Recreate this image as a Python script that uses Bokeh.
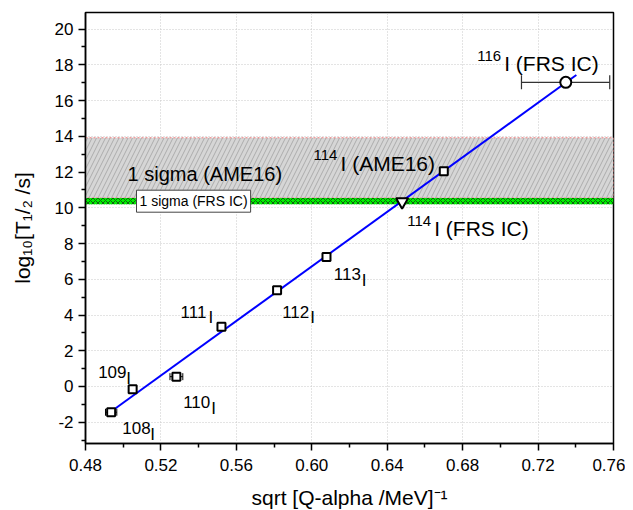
from bokeh.plotting import figure
from bokeh.models import (FixedTicker, PrintfTickFormatter, Whisker, ColumnDataSource,
                          Label, Range1d)
from bokeh.core.properties import value
from bokeh.embed import file_html
from bokeh.resources import INLINE

# ---- data ----
iso_x = [0.4936, 0.5050, 0.5282, 0.5521, 0.5816, 0.6078]
iso_y = [-1.44, -0.15, 0.55, 3.35, 5.38, 7.25]
iso_xerr = [0.0030, 0.0008, 0.0034, 0.0008, 0.0008, 0.0008]

ame_x = [0.6700]
ame_y = [12.04]
ame_lo = [0.6476]
ame_hi = [0.6927]

frs114_x = [0.6479]
frs114_y = [10.34]

frs116_x = [0.7347]
frs116_y = [17.02]
frs116_lo = [0.7112]
frs116_hi = [0.7580]

fit_x = [0.4936, 0.7403]
fit_y = [-1.40, 17.43]

ame_band = [10.55, 13.92]
frs_band = [10.20, 10.55]
band_x = [0.48, 0.76]

mass_text = ["108", "109", "110", "111", "112", "113"]
mass_lx = [0.4995, 0.4867, 0.5318, 0.5304, 0.5843, 0.6117]
mass_ly = [-2.34, 0.80, -0.88, 4.17, 4.17, 6.28]

big_sup = ["116", "114", "114"]
big_main = ["I (FRS IC)", "I (AME16)", "I (FRS IC)"]
big_lx = [0.6877, 0.6009, 0.6506]
big_ly = [18.07, 12.49, 8.82]

x_ticks = [0.48, 0.52, 0.56, 0.60, 0.64, 0.68, 0.72, 0.76]
x_minor = [0.50, 0.54, 0.58, 0.62, 0.66, 0.70, 0.74]
y_ticks = [-2, 0, 2, 4, 6, 8, 10, 12, 14, 16, 18, 20]
y_minor = [-3, -1, 1, 3, 5, 7, 9, 11, 13, 15, 17, 19]

FONT = "Liberation Sans"

p = figure(frame_width=528, frame_height=431, output_backend="svg",
           toolbar_location=None, x_range=Range1d(0.48, 0.76),
           y_range=Range1d(-3.19, 20.93),
           min_border_left=85, min_border_right=12, min_border_top=12,
           min_border_bottom=59)
p.background_fill_color = "white"
p.border_fill_color = "white"
p.outline_line_color = "black"
p.outline_line_width = 1.5

# bands
p.quad(left=[band_x[0]], right=[band_x[1]], bottom=[ame_band[0]], top=[ame_band[1]],
       fill_color="#d6d6d6", line_color="#f08080", line_dash="2 2", line_width=1,
       hatch_pattern="/", hatch_color="#8a8a8a", hatch_scale=9, hatch_weight=0.7,
       hatch_alpha=0.8)
p.quad(left=[band_x[0]], right=[band_x[1]], bottom=[frs_band[0]], top=[frs_band[1]],
       fill_color="#00ee00", line_color=None,
       hatch_pattern="x", hatch_color="#104010", hatch_scale=5, hatch_weight=0.8)

# grid
for ax_grid in (p.xgrid, p.ygrid):
    ax_grid.grid_line_color = "#c8c8c8"
    ax_grid.grid_line_dash = "1 2"
    ax_grid.grid_line_width = 1
p.xgrid.ticker = FixedTicker(ticks=x_ticks)
p.ygrid.ticker = FixedTicker(ticks=y_ticks)

# axes
p.xaxis.ticker = FixedTicker(ticks=x_ticks, minor_ticks=x_minor)
p.yaxis.ticker = FixedTicker(ticks=y_ticks, minor_ticks=y_minor)
p.xaxis.formatter = PrintfTickFormatter(format="%.2f")
p.yaxis.major_label_overrides = {t: str(t) for t in y_ticks}
for ax in (p.xaxis, p.yaxis):
    ax.axis_line_width = 1.5
    ax.axis_line_color = "black"
    ax.major_tick_line_width = 1.5
    ax.minor_tick_line_width = 1.5
    ax.major_tick_in = 0
    ax.minor_tick_in = 0
    ax.major_tick_out = 7
    ax.minor_tick_out = 4
    ax.major_label_text_font = FONT
    ax.major_label_text_font_size = "17px"
    ax.major_label_text_color = "black"
    ax.axis_label_text_font = FONT
    ax.axis_label_text_font_size = "21px"
    ax.axis_label_text_font_style = "normal"
    ax.axis_label_text_color = "black"
p.xaxis.major_label_standoff = 8
p.yaxis.major_label_standoff = 5
p.xaxis.axis_label = "sqrt [Q-alpha /MeV]⁻¹"
p.xaxis.axis_label_standoff = 12
p.yaxis.axis_label = "log₁₀[T₁/₂ /s]"
p.yaxis.axis_label_standoff = 18

# fit line
p.line(fit_x, fit_y, line_color="#0000ff", line_width=2)

# error bars
iso_src = ColumnDataSource(dict(y=iso_y, lo=[a - b for a, b in zip(iso_x, iso_xerr)],
                                hi=[a + b for a, b in zip(iso_x, iso_xerr)]))
w1 = Whisker(source=iso_src, base="y", lower="lo", upper="hi", dimension="width",
             line_color="black", line_width=1)
w1.upper_head.size = 7
w1.lower_head.size = 7
w1.upper_head.line_color = "black"
w1.lower_head.line_color = "black"
p.add_layout(w1)
ame_src = ColumnDataSource(dict(y=ame_y + frs116_y, lo=ame_lo + frs116_lo,
                                hi=ame_hi + frs116_hi))
w2 = Whisker(source=ame_src, base="y", lower="lo", upper="hi", dimension="width",
             line_color="#333333", line_width=1.2)
w2.upper_head.size = 14
w2.lower_head.size = 14
w2.upper_head.line_color = "#333333"
w2.lower_head.line_color = "#333333"
w2.upper_head.line_width = 1.2
w2.lower_head.line_width = 1.2
p.add_layout(w2)

# markers
p.scatter(iso_x, iso_y, marker="square", size=8, fill_color="white",
          line_color="black", line_width=2)
p.scatter(ame_x, ame_y, marker="square", size=8, fill_color="white",
          line_color="black", line_width=2)
p.scatter(frs114_x, frs114_y, marker="inverted_triangle", size=12, fill_color="white",
          line_color="black", line_width=2)
p.scatter(frs116_x, frs116_y, marker="circle", size=11, fill_color="white",
          line_color="black", line_width=2)

# isotope labels (mass number + lowered element symbol)
p.text(mass_lx, mass_ly, text=mass_text, text_font=value(FONT),
       text_font_size="17px", text_baseline="alphabetic", text_color="black")
p.text(mass_lx, mass_ly, text=["I"] * len(mass_lx), text_font=value(FONT),
       text_font_size="17px", text_baseline="alphabetic", text_color="black",
       x_offset=28, y_offset=6)

# big labels with superscripts
p.text(big_lx, big_ly, text=big_sup, text_font=value(FONT),
       text_font_size="15px", text_baseline="alphabetic", text_color="black",
       y_offset=-8)
p.text(big_lx, big_ly, text=big_main, text_font=value(FONT),
       text_font_size="21px", text_baseline="alphabetic", text_color="black",
       x_offset=27)

# band labels
p.add_layout(Label(x=0.5023, y=11.89, text="1 sigma (AME16)", text_font=FONT,
                   text_font_size="20px", text_baseline="alphabetic", text_color="black"))
p.add_layout(Label(x=0.5373, y=10.37, text="1 sigma (FRS IC)", text_font=FONT,
                   text_font_size="14px", text_align="center", text_baseline="middle",
                   text_color="black", background_fill_color="white",
                   border_line_color="#444444", border_line_width=1,
                   padding=3))

open("out.html", "w").write(file_html(p, INLINE))
